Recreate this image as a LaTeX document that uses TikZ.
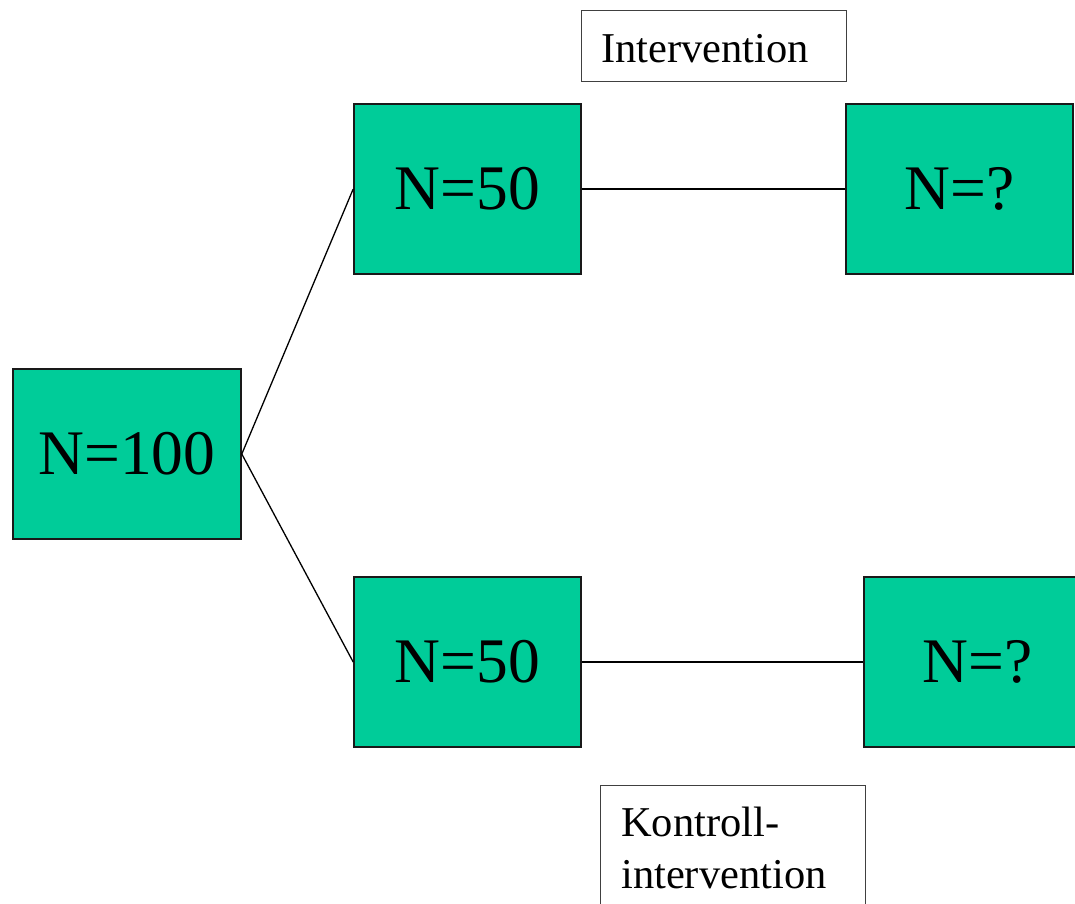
\documentclass[tikz,border=0pt]{standalone}
\usepackage{fontspec}
\setmainfont{Liberation Serif}
\definecolor{boxgreen}{HTML}{00CC99}
\tikzset{
  x=1pt, y=-1pt,
  groupbox/.style={rectangle, draw=black!90, line width=1.6pt, fill=boxgreen,
    minimum width=227pt, minimum height=170pt, inner sep=0pt,
    font=\fontsize{63.5}{70}\selectfont},
  labelbox/.style={rectangle, draw=black!75, line width=1pt, fill=white,
    minimum width=265pt, inner sep=0pt, anchor=north west},
  labeltext/.style={anchor=base west, inner sep=0pt,
    font=\fontsize{42.5}{52}\selectfont},
  link/.style={draw=black, line width=1.3pt}
}
\begin{document}
\begin{tikzpicture}
\useasboundingbox (0,0) rectangle (1075,903);
\clip (0,0) rectangle (1075,903);

% study population and the two arms
\node[groupbox, minimum width=228pt] (all) at (127,454) {N=100};
\node[groupbox] (armA) at (467.5,189) {N=50};
\node[groupbox] (armB) at (467.5,662) {N=50};
\node[groupbox] (outA) at (959.5,189) {N=?};
\node[groupbox] (outB) at (977.5,662) {N=?};

% connectors
\draw[link] (all.east) -- (armA.west);
\draw[link] (all.east) -- (armB.west);
\draw[link] (armA.east) -- (outA.west);
\draw[link] (armB.east) -- (outB.west);

% arm labels
\node[labelbox, minimum height=71pt] (labA) at (581,10) {};
\node[labeltext] (labAtext) at (601,62) {Intervention};
\node[labelbox, minimum height=160pt] (labB) at (600,784.5) {};
\node[labeltext] (labBtext1) at (621,836) {Kontroll-};
\node[labeltext] (labBtext2) at (621,888) {intervention};
\end{tikzpicture}
\end{document}
